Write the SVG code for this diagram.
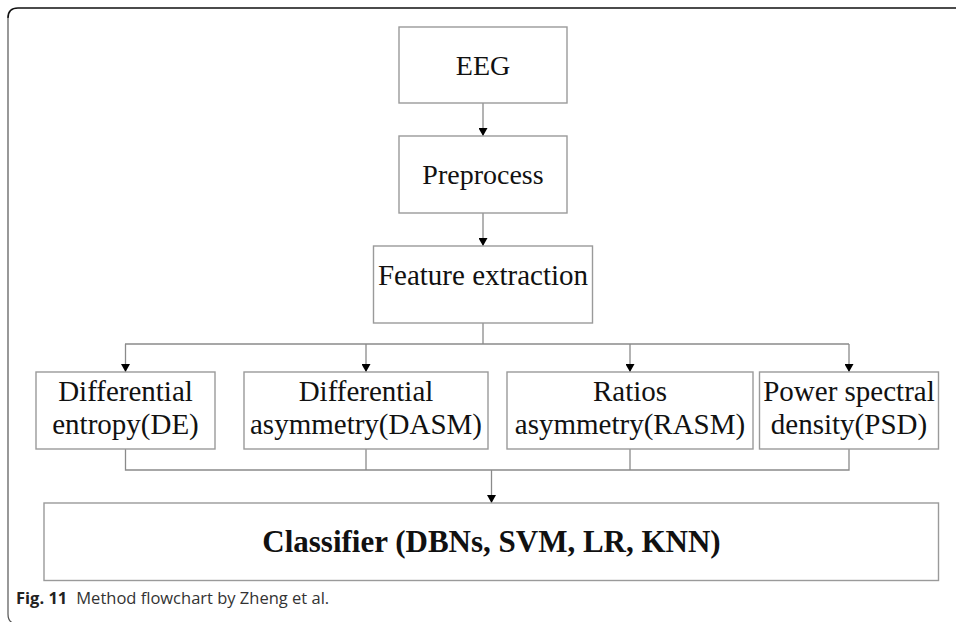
<svg xmlns="http://www.w3.org/2000/svg" width="956" height="622" viewBox="0 0 956 622">
  <style>
    .box { fill: #ffffff; stroke: #9a9a9a; stroke-width: 1.4; }
    .lbl { font-family: "Liberation Serif", "Times New Roman", serif; font-size: 29px; fill: #111; text-anchor: middle; }
    .big { font-size: 28px; }
    .bold { font-weight: bold; font-size: 31px; }
    .wire { fill: none; stroke: #8a8a8a; stroke-width: 1.3; }
    .cap { font-family: "Open Sans", "Noto Sans", sans-serif; font-size: 16.5px; fill: #333; }
  </style>
  <defs>
    <marker id="arrow" viewBox="0 0 8 9" refX="8" refY="4.5" markerWidth="8" markerHeight="9" markerUnits="userSpaceOnUse" orient="auto">
      <path d="M0,0 L8,4.5 L0,9 Z" fill="#000"/>
    </marker>
  </defs>
  <rect width="956" height="622" fill="#ffffff"/>

  <!-- outer frame -->
  <path d="M956 8 H18 Q8 8 8 18" fill="none" stroke="#111" stroke-width="1.6"/>
  <path d="M8 18 V614 Q8 624 18 624" fill="none" stroke="#555" stroke-width="1.2"/>

  <!-- connectors -->
  <g id="connectors">
    <line class="wire" x1="483" y1="103" x2="483" y2="136" marker-end="url(#arrow)"/>
    <line class="wire" x1="483" y1="213" x2="483" y2="246" marker-end="url(#arrow)"/>
    <line class="wire" x1="483" y1="323" x2="483" y2="344"/>
    <line class="wire" x1="125" y1="344" x2="849" y2="344"/>
    <line class="wire" x1="125.5" y1="344" x2="125.5" y2="372" marker-end="url(#arrow)"/>
    <line class="wire" x1="366" y1="344" x2="366" y2="372" marker-end="url(#arrow)"/>
    <line class="wire" x1="630" y1="344" x2="630" y2="372" marker-end="url(#arrow)"/>
    <line class="wire" x1="849" y1="344" x2="849" y2="372" marker-end="url(#arrow)"/>
    <polyline class="wire" points="125.5,449 125.5,470 849,470 849,449"/>
    <line class="wire" x1="366" y1="449" x2="366" y2="470"/>
    <line class="wire" x1="630" y1="449" x2="630" y2="470"/>
    <line class="wire" x1="491.5" y1="470" x2="491.5" y2="503" marker-end="url(#arrow)"/>
  </g>

  <g id="eeg">
    <rect class="box" x="399" y="27" width="168" height="76"/>
    <text class="lbl big" x="483" y="75">EEG</text>
  </g>
  <g id="preprocess">
    <rect class="box" x="399" y="136" width="168" height="77"/>
    <text class="lbl big" x="483" y="184">Preprocess</text>
  </g>
  <g id="feature-extraction">
    <rect class="box" x="373.5" y="246" width="219" height="77"/>
    <text class="lbl" x="483" y="285">Feature extraction</text>
  </g>

  <g id="de">
    <rect class="box" x="36" y="372" width="179" height="77"/>
    <text class="lbl" x="125.5" y="401">Differential</text>
    <text class="lbl" x="125.5" y="434">entropy(DE)</text>
  </g>
  <g id="dasm">
    <rect class="box" x="244" y="372" width="244" height="77"/>
    <text class="lbl" x="366" y="401">Differential</text>
    <text class="lbl" x="366" y="434">asymmetry(DASM)</text>
  </g>
  <g id="rasm">
    <rect class="box" x="507" y="372" width="246" height="77"/>
    <text class="lbl" x="630" y="401">Ratios</text>
    <text class="lbl" x="630" y="434">asymmetry(RASM)</text>
  </g>
  <g id="psd">
    <rect class="box" x="759.5" y="372" width="179" height="77"/>
    <text class="lbl" x="849" y="401">Power spectral</text>
    <text class="lbl" x="849" y="434">density(PSD)</text>
  </g>

  <g id="classifier">
    <rect class="box" x="44" y="503" width="894.5" height="77.5"/>
    <text class="lbl bold" x="491.5" y="552">Classifier (DBNs, SVM, LR, KNN)</text>
  </g>

  <text class="cap" x="16" y="604"><tspan font-weight="bold" fill="#222">Fig. 11</tspan><tspan dx="9">Method flowchart by Zheng et al.</tspan></text>
</svg>
